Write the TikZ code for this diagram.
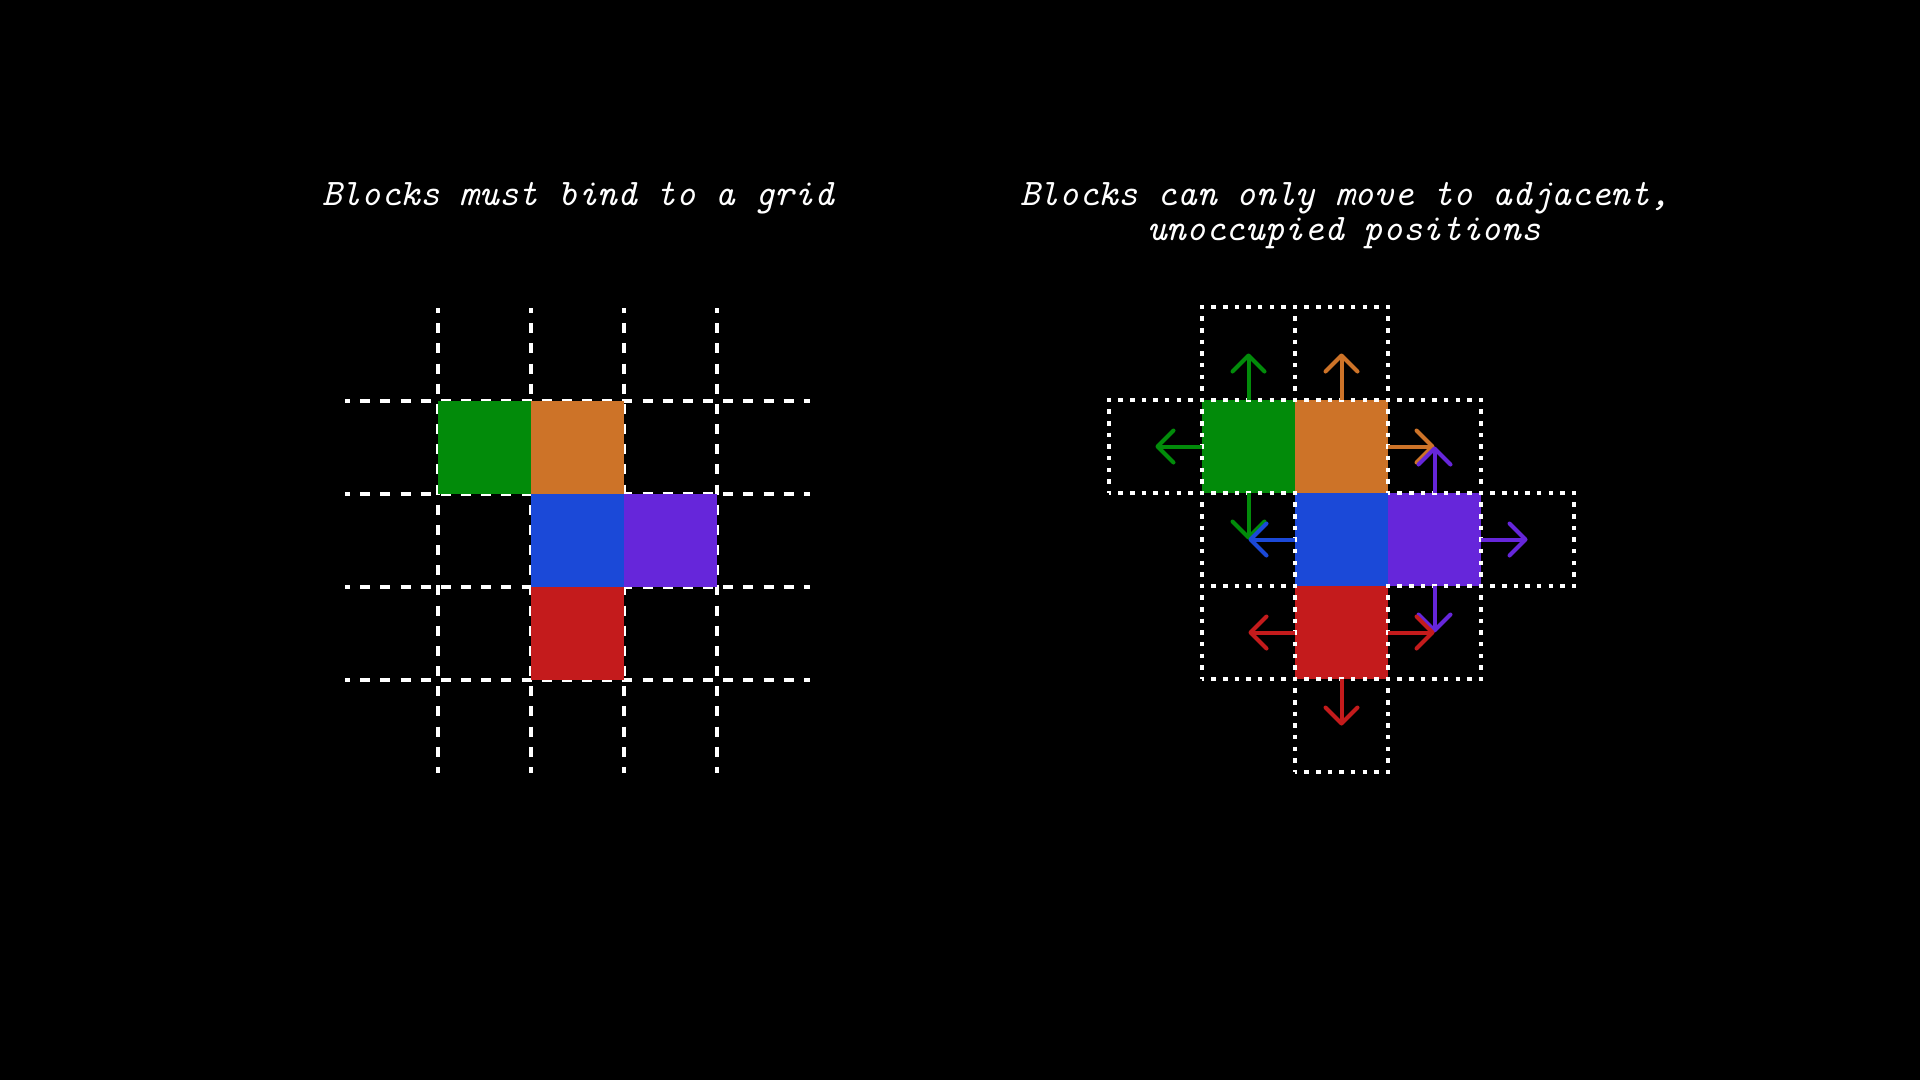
\documentclass[tikz,border=0pt]{standalone}
\usepackage{fontspec}
\usetikzlibrary{arrows.meta}
\definecolor{cgreen}{RGB}{2,139,10}
\definecolor{corange}{RGB}{205,115,40}
\definecolor{cblue}{RGB}{27,73,216}
\definecolor{cpurple}{RGB}{102,38,218}
\definecolor{cred}{RGB}{196,27,28}
\tikzset{
  block/.style={draw=none, inner sep=0pt, outer sep=0pt, minimum size=93pt, fill=#1},
  slot/.style={draw=white, inner sep=0pt, outer sep=0pt, minimum size=93pt, line width=4.5pt,
    dash pattern=on 4.5pt off 7.125pt, dash phase=2.25pt},
  gridline/.style={draw=white, line width=4.5pt, dash pattern=on 10pt off 10.17pt, dash phase=5pt},
  mover/.style={draw=#1, line width=4pt, -{Straight Barb[length=16pt,width=32pt,round]}},
  title/.style={text=white, anchor=base, inner sep=0pt,
    font=\fontsize{37.5}{34.7}\selectfont\ttfamily\itshape}
}
\begin{document}
\begin{tikzpicture}[x=1pt,y=-1pt]
\useasboundingbox (0,0) rectangle (1920,1080);
\fill[black] (0,0) rectangle (1920,1080);

% titles
\node[title] (t1) at (578,205.3) {Blocks must bind to a grid};
\node[title] (t2a) at (1345,205.3) {Blocks can only move to adjacent,};
\node[title] (t2b) at (1344,240) {unoccupied positions};

% left grid
\foreach \x in {438,531,624,717} \draw[gridline] (\x,308) -- (\x,773);
\foreach \y in {401,494,587,680} \draw[gridline] (345,\y) -- (810,\y);

% left blocks
\node[block=cgreen]  (gL) at (484.5,447.5) {};
\node[block=corange] (oL) at (577.5,447.5) {};
\node[block=cblue]   (bL) at (577.5,540.5) {};
\node[block=cpurple] (pL) at (670.5,540.5) {};
\node[block=cred]    (rL) at (577.5,633.5) {};

% right blocks
\node[block=cgreen]  (gR) at (1248.5,446.5) {};
\node[block=corange] (oR) at (1341.5,446.5) {};
\node[block=cblue]   (bR) at (1341.5,539.5) {};
\node[block=cpurple] (pR) at (1434.5,539.5) {};
\node[block=cred]    (rR) at (1341.5,632.5) {};

% free slots
\node[slot] (sA) at (1248.5,353.5) {};
\node[slot] (sB) at (1341.5,353.5) {};
\node[slot] (sC) at (1155.5,446.5) {};
\node[slot] (sD) at (1434.5,446.5) {};
\node[slot] (sE) at (1248.5,539.5) {};
\node[slot] (sF) at (1527.5,539.5) {};
\node[slot] (sG) at (1248.5,632.5) {};
\node[slot] (sH) at (1434.5,632.5) {};
\node[slot] (sI) at (1341.5,725.5) {};

% moves
\draw[mover=cgreen]  (gR.north) -- (sA.center);
\draw[mover=corange] (oR.north) -- (sB.center);
\draw[mover=cgreen]  (gR.west)  -- (sC.center);
\draw[mover=corange] (oR.east)  -- (sD.center);
\draw[mover=cpurple] (pR.north) -- (sD.center);
\draw[mover=cgreen]  (gR.south) -- (sE.center);
\draw[mover=cblue]   (bR.west)  -- (sE.center);
\draw[mover=cpurple] (pR.east)  -- (sF.center);
\draw[mover=cpurple] (pR.south) -- (sH.center);
\draw[mover=cred]    (rR.west)  -- (sG.center);
\draw[mover=cred]    (rR.east)  -- (sH.center);
\draw[mover=cred]    (rR.south) -- (sI.center);
\end{tikzpicture}
\end{document}
